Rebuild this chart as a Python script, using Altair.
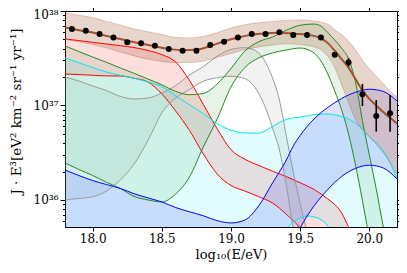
import altair as alt
import pandas as pd

# ---------------- data (log10 E/eV ; log10 of J*E^3) ----------------
obs_x = [17.85, 17.95, 18.05, 18.15, 18.25, 18.35, 18.45, 18.55, 18.65, 18.75, 18.85, 18.95,
         19.05, 19.15, 19.25, 19.35, 19.45, 19.55, 19.65, 19.75, 19.85, 19.95, 20.05, 20.15]
obs_y = [37.81, 37.79, 37.757, 37.72, 37.668, 37.66, 37.633, 37.598, 37.58, 37.58, 37.64, 37.675,
         37.72, 37.757, 37.757, 37.774, 37.746, 37.746, 37.72, 37.538, 37.457, 37.12, 36.89, 36.917]
obs_lo = [37.80, 37.78, 37.747, 37.71, 37.658, 37.65, 37.623, 37.588, 37.57, 37.57, 37.63, 37.665,
          37.71, 37.747, 37.745, 37.762, 37.734, 37.732, 37.705, 37.513, 37.412, 36.995, 36.723, 36.723]
obs_hi = [37.82, 37.80, 37.767, 37.73, 37.678, 37.67, 37.643, 37.608, 37.59, 37.59, 37.65, 37.685,
          37.73, 37.767, 37.769, 37.786, 37.758, 37.76, 37.735, 37.563, 37.502, 37.228, 37.058, 37.111]

total_x = [17.8, 17.85, 17.95, 18.05, 18.15, 18.25, 18.35, 18.45, 18.55, 18.65, 18.75, 18.85, 18.95,
           19.05, 19.15, 19.25, 19.35, 19.45, 19.55, 19.65, 19.7, 19.75, 19.8, 19.85, 19.9, 19.95,
           20.0, 20.05, 20.1, 20.15, 20.2]
total_y = [37.825, 37.81, 37.785, 37.755, 37.72, 37.685, 37.655, 37.625, 37.60, 37.585, 37.59, 37.63,
           37.68, 37.72, 37.75, 37.765, 37.77, 37.76, 37.75, 37.71, 37.66, 37.58, 37.49, 37.40, 37.28,
           37.16, 37.07, 37.0, 36.93, 36.87, 36.81]

brown_x = [17.8, 17.9, 18.0, 18.1, 18.2, 18.3, 18.4, 18.5, 18.6, 18.7, 18.8, 18.9, 19.0, 19.1, 19.2,
           19.3, 19.4, 19.5, 19.6, 19.65, 19.7, 19.75, 19.8, 19.85, 19.9, 19.95, 20.0, 20.05, 20.1,
           20.15, 20.2]
brown_up = [37.98, 37.955, 37.93, 37.89, 37.85, 37.81, 37.78, 37.75, 37.72, 37.715, 37.73, 37.77,
            37.82, 37.855, 37.875, 37.89, 37.90, 37.905, 37.895, 37.88, 37.86, 37.80, 37.75, 37.68,
            37.59, 37.48, 37.39, 37.31, 37.23, 37.15, 37.09]
brown_lo = [37.70, 37.675, 37.645, 37.61, 37.565, 37.525, 37.49, 37.465, 37.455, 37.455, 37.47, 37.51,
            37.55, 37.59, 37.62, 37.64, 37.655, 37.645, 37.62, 37.59, 37.52, 37.40, 37.22, 37.03,
            36.85, 36.75, 36.67, 36.59, 36.50, 36.40, 36.27]

red_x = [17.8, 17.9, 18.0, 18.1, 18.2, 18.3, 18.4, 18.5, 18.6, 18.7, 18.8, 18.9, 19.0, 19.1, 19.2,
         19.3, 19.4, 19.5, 19.6, 19.7, 19.75, 19.8, 19.85, 19.9, 20.0, 20.1, 20.2]
red_up = [37.704, 37.687, 37.668, 37.651, 37.633, 37.613, 37.582, 37.538, 37.460, 37.265, 37.011,
          36.753, 36.533, 36.431, 36.366, 36.305, 36.247, 36.182, 36.112, 36.011, 35.952, 35.862,
          35.714, 35.58, 35.35, 35.15, 35.0]
red_lo = [37.333, 37.327, 37.320, 37.313, 37.312, 37.288, 37.249, 37.122, 36.942, 36.735, 36.487,
          36.275, 36.153, 36.095, 36.035, 35.968, 35.848, 35.70, 35.45, 35.3, 35.25, 35.2, 35.15,
          35.1, 35.0, 34.9, 34.8]

green_x = [17.8, 17.9, 18.0, 18.1, 18.2, 18.3, 18.4, 18.5, 18.6, 18.7, 18.8, 18.9, 19.0, 19.1, 19.2,
           19.3, 19.4, 19.5, 19.6, 19.65, 19.7, 19.75, 19.8, 19.85, 19.9, 19.95, 20.0, 20.05, 20.1,
           20.15, 20.2]
green_up = [37.630, 37.571, 37.513, 37.457, 37.397, 37.340, 37.280, 37.219, 37.149, 37.114, 37.127,
            37.228, 37.392, 37.575, 37.675, 37.725, 37.796, 37.849, 37.862, 37.841, 37.771, 37.693,
            37.606, 37.492, 37.249, 36.839, 36.476, 36.116, 35.725, 35.4, 35.1]
green_lo = [36.392, 36.323, 36.259, 36.187, 36.122, 36.037, 36.000, 35.979, 36.063, 36.243, 36.561,
            36.857, 37.196, 37.402, 37.503, 37.556, 37.587, 37.608, 37.556, 37.471, 37.333, 37.153,
            36.952, 36.698, 36.370, 35.995, 35.6, 35.3, 35.1, 35.0, 34.9]

gray_x = [17.8, 17.9, 18.0, 18.1, 18.2, 18.3, 18.4, 18.5, 18.6, 18.7, 18.8, 18.9, 19.0, 19.1, 19.2,
          19.25, 19.3, 19.35, 19.4, 19.45, 19.5, 19.55, 19.6, 19.7, 20.2]
gray_up = [37.302, 37.259, 37.206, 37.158, 37.096, 37.069, 37.079, 37.132, 37.210, 37.323, 37.412,
           37.521, 37.593, 37.612, 37.556, 37.455, 37.293, 37.058, 36.677, 36.296, 35.963, 35.66,
           35.4, 35.1, 34.5]
gray_lo = [36.000, 36.016, 36.034, 36.095, 36.212, 36.381, 36.630, 36.921, 37.079, 37.169, 37.257,
           37.293, 37.309, 37.284, 37.129, 36.974, 36.762, 36.529, 36.159, 35.70, 35.4, 35.3, 35.2,
           35.0, 34.4]

cyan_x = [17.8, 17.9, 18.0, 18.1, 18.2, 18.3, 18.4, 18.5, 18.6, 18.7, 18.8, 18.9, 19.0, 19.1, 19.2,
          19.3, 19.35, 19.4, 19.45, 19.5, 19.55, 19.6, 19.65, 19.7, 19.75, 19.8, 19.9, 20.0, 20.1, 20.2]
cyan_up = [37.503, 37.453, 37.401, 37.354, 37.320, 37.288, 37.249, 37.200, 37.103, 37.007, 36.915,
           36.808, 36.738, 36.709, 36.709, 36.778, 36.82, 36.852, 36.868, 36.878, 36.89, 36.903,
           36.908, 36.910, 36.90, 36.884, 36.815, 36.67, 36.519, 36.233]
cyan_lo = [35.4, 35.4, 35.4, 35.4, 35.4, 35.4, 35.4, 35.4, 35.4, 35.4, 35.4, 35.4, 35.4, 35.4, 35.4,
           35.4, 35.577, 35.693, 35.767, 35.810, 35.831, 35.820, 35.792, 35.725, 35.577, 35.4, 35.3,
           35.2, 35.1, 35.0]

blue_x = [17.8, 17.9, 18.0, 18.1, 18.2, 18.3, 18.4, 18.5, 18.6, 18.7, 18.8, 18.9, 19.0, 19.1, 19.2,
          19.3, 19.4, 19.45, 19.5, 19.6, 19.7, 19.8, 19.9, 20.0, 20.1, 20.2]
blue_up = [36.317, 36.259, 36.206, 36.163, 36.122, 36.066, 36.022, 35.979, 35.920, 35.875, 35.833,
           35.781, 35.757, 35.788, 35.937, 36.180, 36.423, 36.571, 36.683, 36.857, 36.980, 37.074,
           37.140, 37.172, 37.149, 37.048]
blue_lo = [35.3, 35.3, 35.3, 35.3, 35.3, 35.3, 35.3, 35.3, 35.3, 35.3, 35.3, 35.3, 35.3, 35.3, 35.3,
           35.3, 35.4, 35.556, 35.704, 35.937, 36.111, 36.249, 36.334, 36.368, 36.339, 36.222]

x_ticks = [18.0, 18.5, 19.0, 19.5, 20.0]
y_ticks = [float(f"{m}e{k}") for k in (35, 36, 37) for m in range(1, 10) if not (k == 35 and m < 6)] + [1e38]

FONT = "DejaVu Serif"
xscale = alt.Scale(domain=[17.8, 20.2], nice=False, zero=False)
yscale = alt.Scale(type="log", domain=[10 ** 35.714, 1e38], nice=False)

components = [
    ("red", red_x, red_up, red_lo, "#ff0000", 0.13, 1.0),
    ("gray", gray_x, gray_up, gray_lo, "#999999", 0.13, 1.0),
    ("green", green_x, green_up, green_lo, "#228b22", 0.10, 1.0),
    ("cyan", cyan_x, cyan_up, cyan_lo, "#00e5ee", 0.11, 1.0),
    ("blue", blue_x, blue_up, blue_lo, "#0000ff", 0.12, 1.0),
    ("brown", brown_x, brown_up, brown_lo, "#a0522d", 0.24, 0.3),
]

layers = []
for name, xs, up, lo, col, fop, lop in components:
    df = pd.DataFrame({"x": xs, "up": [10 ** v for v in up], "lo": [10 ** v for v in lo]})
    layers.append(
        alt.Chart(df).mark_area(color=col, opacity=fop, clip=True, interpolate="monotone").encode(
            x=alt.X("x:Q", scale=xscale, axis=None),
            y=alt.Y("up:Q", scale=yscale, axis=None),
            y2="lo:Q",
        )
    )
for name, xs, up, lo, col, fop, lop in components:
    df = pd.DataFrame({"x": xs + xs,
                       "v": [10 ** v for v in up] + [10 ** v for v in lo],
                       "edge": ["up"] * len(xs) + ["lo"] * len(xs)})
    layers.append(
        alt.Chart(df).mark_line(color=col, strokeWidth=1, opacity=lop, clip=True,
                                interpolate="monotone").encode(
            x=alt.X("x:Q", scale=xscale, axis=None),
            y=alt.Y("v:Q", scale=yscale, axis=None),
            detail="edge:N",
        )
    )

tot_df = pd.DataFrame({"x": total_x, "y": [10 ** v for v in total_y]})
layers.append(
    alt.Chart(tot_df).mark_line(color="#a0522d", strokeWidth=2, clip=True, interpolate="monotone").encode(
        x=alt.X("x:Q", scale=xscale, axis=None),
        y=alt.Y("y:Q", scale=yscale, axis=None),
    )
)

obs_df = pd.DataFrame({"x": obs_x, "y": [10 ** v for v in obs_y],
                       "lo": [10 ** v for v in obs_lo], "hi": [10 ** v for v in obs_hi]})
layers.append(
    alt.Chart(obs_df).mark_rule(color="black", strokeWidth=1.6).encode(
        x=alt.X("x:Q", scale=xscale, axis=None),
        y=alt.Y("lo:Q", scale=yscale, axis=None),
        y2="hi:Q",
    )
)

major_test = "abs(log(datum.value)/LN10 - round(log(datum.value)/LN10)) < 0.001"
ytick_size = {"condition": {"test": major_test, "value": 5}, "value": 2.5}
top_label_offset = {"condition": {"test": "datum.value == 1e38", "value": 3}, "value": 0}
label_expr = ("datum.value == 1e36 ? '10³⁶' : datum.value == 1e37 ? '10³⁷' : "
              "datum.value == 1e38 ? '10³⁸' : ''")

layers.append(
    alt.Chart(obs_df).mark_circle(color="black", opacity=1, size=36).encode(
        x=alt.X("x:Q", scale=xscale,
                axis=alt.Axis(values=x_ticks, format=".1f", title="log₁₀(E/eV)", grid=False,
                              tickSize=4, tickColor="black", domainColor="black",
                              labelFont=FONT, labelFontSize=12, labelColor="black", labelPadding=2,
                              titleFont=FONT, titleFontSize=13, titleFontWeight="normal",
                              titleColor="black", titlePadding=4)),
        y=alt.Y("y:Q", scale=yscale,
                axis=alt.Axis(values=y_ticks, labelExpr=label_expr, title="J · E³[eV² km⁻² sr⁻¹ yr⁻¹]",
                              grid=False, tickSize=ytick_size, tickColor="black",
                              domainColor="black", labelFont=FONT, labelFontSize=12,
                              labelColor="black", labelPadding=2, labelOverlap=False,
                              labelOffset=top_label_offset, labelBound=False,
                              titleFont=FONT, titleFontSize=13.5, titleFontWeight="normal",
                              titleColor="black", titleX=-49, titleY=100, titleAngle=270,
                              titleAlign="center", titleBaseline="middle")),
    )
)

frame_df = pd.DataFrame({"x": [19.0], "y": [1e37]})
layers.append(
    alt.Chart(frame_df).mark_point(opacity=0).encode(
        x=alt.X("x:Q", scale=xscale,
                axis=alt.Axis(orient="top", values=x_ticks, labels=False, title=None, grid=False,
                              tickSize=4, tickColor="black", domainColor="black")),
        y=alt.Y("y:Q", scale=yscale,
                axis=alt.Axis(orient="right", values=y_ticks, labels=False, title=None, grid=False,
                              tickSize=ytick_size, tickColor="black", domainColor="black")),
    )
)

chart = alt.layer(*layers).resolve_axis(x="independent", y="independent").properties(
    width=332, height=216,
    autosize=alt.AutoSizeParams(type="none"),
    padding={"left": 57, "top": 3, "right": 2, "bottom": 38},
).configure_view(stroke="black", strokeWidth=1)

chart.save("out.html", embed_options={"renderer": "svg", "actions": False})
